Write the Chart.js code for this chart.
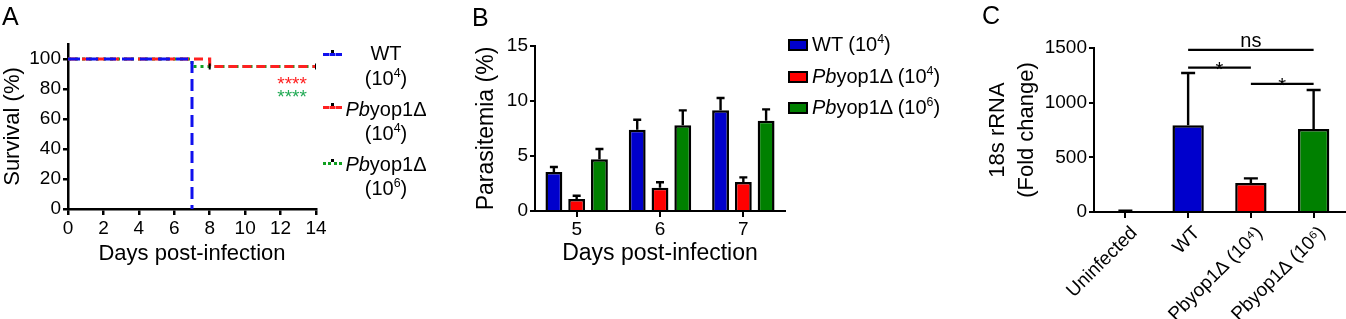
<!DOCTYPE html>
<html><head><meta charset="utf-8">
<script src="https://cdn.jsdelivr.net/npm/chart.js@4.4.1/dist/chart.umd.min.js"></script>
<style>
body{margin:0;background:#fff;width:1346px;height:319px;position:relative;overflow:hidden;font-family:'Liberation Sans',Arial,sans-serif;color:#000;}
canvas{position:absolute;top:0;}
.pl{position:absolute;font-size:25px;line-height:25px;}
.la{position:absolute;left:336px;width:100px;text-align:center;font-size:20px;line-height:22px;transform:translateY(-50%);white-space:nowrap;}
.lb{position:absolute;left:812px;font-size:20px;line-height:22px;transform:translateY(-50%);white-space:nowrap;}
.box{position:absolute;left:788px;width:16px;height:8px;border:2.5px solid #000;transform:translateY(-50%);}
.ln{position:absolute;left:323px;width:19px;height:0;}
.dot{position:absolute;left:331px;width:3px;height:3px;background:#000;}
sup{font-size:62%;vertical-align:baseline;position:relative;top:-0.65em;}
</style></head>
<body>
<canvas id="cA" width="330" height="280" style="left:0px"></canvas>
<canvas id="cB" width="340" height="280" style="left:460px"></canvas>
<canvas id="cC" width="366" height="319" style="left:980px"></canvas>

<div class="pl" style="left:2px;top:4px">A</div>
<div class="pl" style="left:472px;top:5px">B</div>
<div class="pl" style="left:982px;top:3px">C</div>

<div class="ln" style="top:53px;border-top:3px dashed #1010ee"></div>
<div class="ln" style="top:106px;border-top:3px dashed #ff2020"></div>
<div class="ln" style="top:162px;border-top:3px dotted #10a020"></div>
<div class="dot" style="top:50px"></div>
<div class="dot" style="top:103px"></div>
<div class="dot" style="top:159px"></div>
<div class="la" style="top:53px">WT</div>
<div class="la" style="top:79px">(10<sup>4</sup>)</div>
<div class="la" style="top:109px"><i>Pb</i>yop1Δ</div>
<div class="la" style="top:134px">(10<sup>4</sup>)</div>
<div class="la" style="top:164px"><i>Pb</i>yop1Δ</div>
<div class="la" style="top:189px">(10<sup>6</sup>)</div>

<div class="box" style="top:45px;background:#0000cc"></div>
<div class="box" style="top:77px;background:#ff0000"></div>
<div class="box" style="top:108px;background:#008000"></div>
<div class="lb" style="top:45px">WT (10<sup>4</sup>)</div>
<div class="lb" style="top:77px"><i>Pb</i>yop1Δ (10<sup>4</sup>)</div>
<div class="lb" style="top:108px"><i>Pb</i>yop1Δ (10<sup>6</sup>)</div>

<script>
// ---------- Panel A data (Kaplan–Meier survival) ----------
const daysWT = [0, 7];
const survWT = [100, 0];
const daysPb4 = [0, 8, 14];
const survPb4 = [100, 95, 95];
const daysPb6 = [0, 7, 14];
const survPb6 = [100, 95, 95];
const survTicks = [0, 20, 40, 60, 80, 100];
const dayTicks = [0, 2, 4, 6, 8, 10, 12, 14];
const starText = ['****', '****'];
const starX = [12.65, 12.65];
const starY = [86.5, 78];

// ---------- Panel B data (parasitemia) ----------
const parDays = ['5', '6', '7'];
const parWT = [3.55, 7.39, 9.15];
const parWTerr = [0.45, 0.91, 1.12];
const parPb4 = [1.09, 2.12, 2.64];
const parPb4err = [0.30, 0.49, 0.42];
const parPb6 = [4.70, 7.79, 8.21];
const parPb6err = [0.94, 1.36, 1.03];
const parTicks = [0, 5, 10, 15];

// ---------- Panel C data (18s rRNA) ----------
const rnaGroups = ['Uninfected', 'WT', 'Pbyop1Δ (10⁴)', 'Pbyop1Δ (10⁶)'];
const rnaMean = [8, 793, 265, 759];
const rnaErr = [3, 478, 43, 357];
const rnaTicks = [0, 500, 1000, 1500];
const sigFrom = [1, 1, 2];
const sigTo = [3, 2, 3];
const sigText = ['ns', '*', '*'];
const sigLevel = [1482, 1320, 1171];

Chart.defaults.font.family = "'Liberation Sans', Arial, sans-serif";
Chart.defaults.color = '#000';
Chart.defaults.animation = false;
Chart.defaults.responsive = false;
Chart.defaults.devicePixelRatio = 1;
Chart.defaults.plugins.legend.display = false;
Chart.defaults.plugins.tooltip.enabled = false;

function axis(lw, tl, extra) {
  return Object.assign({
    grid: {drawOnChartArea: false, drawTicks: true, color: '#000', lineWidth: lw, tickLength: tl},
    border: {color: '#000', width: lw},
    ticks: {color: '#000', font: {size: 19}, padding: 2, callback: v => String(v)}
  }, extra);
}

const errorBars = {
  id: 'errorBars',
  afterDatasetsDraw(chart) {
    const ctx = chart.ctx, yS = chart.scales.y;
    chart.data.datasets.forEach((ds, i) => {
      if (!ds.errors) return;
      const meta = chart.getDatasetMeta(i);
      meta.data.forEach((bar, j) => {
        const top = yS.getPixelForValue(ds.data[j] + ds.errors[j]);
        ctx.save();
        ctx.strokeStyle = '#000'; ctx.lineWidth = 2.4;
        ctx.beginPath();
        ctx.moveTo(bar.x, bar.y); ctx.lineTo(bar.x, top);
        ctx.moveTo(bar.x - ds.capHalf, top); ctx.lineTo(bar.x + ds.capHalf, top);
        ctx.stroke();
        ctx.restore();
      });
    });
  }
};

// ---------- Panel A ----------
const starsPlugin = {
  id: 'stars',
  afterDatasetsDraw(chart) {
    const ctx = chart.ctx, xS = chart.scales.x, yS = chart.scales.y;
    const cols = ['#ff2020', '#22aa55'];
    ctx.save();
    ctx.font = "19px 'Liberation Sans', Arial";
    ctx.textAlign = 'center';
    ctx.textBaseline = 'alphabetic';
    starText.forEach((t, i) => {
      ctx.fillStyle = cols[i];
      ctx.fillText(t, xS.getPixelForValue(starX[i]), yS.getPixelForValue(starY[i]) + 11);
    });
    ctx.restore();
  }
};

const toXY = (xs, ys) => xs.map((x, i) => ({x: x, y: ys[i]}));

new Chart(document.getElementById('cA'), {
  type: 'line',
  data: {
    datasets: [
      {data: toXY(daysWT, survWT), borderColor: '#1010ee', borderWidth: 3, borderDash: [12, 6], stepped: 'before', pointRadius: 0, order: 1},
      {data: toXY(daysPb4, survPb4), borderColor: '#ff2020', borderWidth: 3, borderDash: [9, 5], stepped: 'before',
       pointStyle: 'line', pointRotation: 90, pointRadius: [0, 3, 3], pointBorderColor: '#000', pointBorderWidth: 2, order: 2},
      {data: toXY(daysPb6, survPb6), borderColor: '#10a020', borderWidth: 3, borderDash: [3, 4], stepped: 'before', pointRadius: 0, order: 3}
    ]
  },
  options: {
    layout: {padding: {left: 0, top: 44, right: 14, bottom: 0}},
    scales: {
      x: axis(2.5, 6, {type: 'linear', min: 0, max: 14,
        afterBuildTicks: s => { s.ticks = dayTicks.map(v => ({value: v})); },
        title: {display: true, text: 'Days post-infection', color: '#000', font: {size: 22}, padding: {top: 0, bottom: 13}},
        afterFit: s => { s.height = 71; }}),
      y: axis(2.5, 5, {type: 'linear', min: 0, max: 110,
        afterBuildTicks: s => { s.ticks = survTicks.map(v => ({value: v})); },
        title: {display: true, text: 'Survival (%)', color: '#000', font: {size: 22}, padding: {top: 0, bottom: 0}},
        afterFit: s => { s.width = 68; }})
    }
  },
  plugins: [starsPlugin]
});

// ---------- Panel B ----------
new Chart(document.getElementById('cB'), {
  type: 'bar',
  data: {
    labels: parDays,
    datasets: [
      {data: parWT, errors: parWTerr, backgroundColor: '#0000cc', borderColor: '#000', borderWidth: 2.5, capHalf: 4},
      {data: parPb4, errors: parPb4err, backgroundColor: '#ff0000', borderColor: '#000', borderWidth: 2.5, capHalf: 4},
      {data: parPb6, errors: parPb6err, backgroundColor: '#008000', borderColor: '#000', borderWidth: 2.5, capHalf: 4}
    ]
  },
  options: {
    datasets: {bar: {categoryPercentage: 0.82, barPercentage: 0.74}},
    layout: {padding: {left: 0, top: 46, right: 15, bottom: 0}},
    scales: {
      x: axis(2, 6, {grid: {offset: false, drawOnChartArea: false, drawTicks: true, color: '#000', lineWidth: 2, tickLength: 6},
        ticks: {color: '#000', font: {size: 19}, padding: 1},
        title: {display: true, text: 'Days post-infection', color: '#000', font: {size: 23}, padding: {top: 0, bottom: 13}},
        afterFit: s => { s.height = 69; }}),
      y: axis(2, 5, {min: 0, max: 15,
        afterBuildTicks: s => { s.ticks = parTicks.map(v => ({value: v})); },
        title: {display: true, text: 'Parasitemia (%)', color: '#000', font: {size: 23}, padding: {top: 13, bottom: 0}},
        afterFit: s => { s.width = 75; }})
    }
  },
  plugins: [errorBars]
});

// ---------- Panel C ----------
const sigPlugin = {
  id: 'sig',
  afterDatasetsDraw(chart) {
    const ctx = chart.ctx, xS = chart.scales.x, yS = chart.scales.y;
    ctx.save();
    ctx.strokeStyle = '#000'; ctx.fillStyle = '#000'; ctx.lineWidth = 2.2;
    ctx.font = "20px 'Liberation Sans', Arial";
    ctx.textAlign = 'center';
    sigText.forEach((t, i) => {
      const x1 = xS.getPixelForValue(sigFrom[i]), x2 = xS.getPixelForValue(sigTo[i]);
      const y = yS.getPixelForValue(sigLevel[i]);
      ctx.beginPath(); ctx.moveTo(x1, y); ctx.lineTo(x2, y); ctx.stroke();
      ctx.textBaseline = 'alphabetic';
      ctx.fillText(t, (x1 + x2) / 2, t === '*' ? y + 8 : y - 3);
    });
    ctx.restore();
  }
};

new Chart(document.getElementById('cC'), {
  type: 'bar',
  data: {
    labels: rnaGroups,
    datasets: [
      {data: rnaMean, errors: rnaErr, backgroundColor: ['#0000cc', '#0000cc', '#ff0000', '#008000'],
       borderColor: '#000', borderWidth: 2.5, capHalf: 7}
    ]
  },
  options: {
    datasets: {bar: {categoryPercentage: 1, barPercentage: 0.5}},
    layout: {padding: {left: 0, top: 48, right: 1, bottom: 0}},
    scales: {
      x: axis(2, 6, {grid: {offset: false, drawOnChartArea: false, drawTicks: true, color: '#000', lineWidth: 2, tickLength: 6},
        ticks: {color: '#000', font: {size: 19}, padding: 4, labelOffset: 9, minRotation: 45, maxRotation: 45, autoSkip: false},
        afterFit: s => { s.height = 107; }}),
      y: axis(2, 5, {min: 0, max: 1500,
        afterBuildTicks: s => { s.ticks = rnaTicks.map(v => ({value: v})); },
        title: {display: true, text: ['18s rRNA', '(Fold change)'], color: '#000', font: {size: 22, lineHeight: 1.3}, padding: {top: 4, bottom: 0}},
        afterFit: s => { s.width = 114; }})
    }
  },
  plugins: [errorBars, sigPlugin]
});
</script>
</body></html>
